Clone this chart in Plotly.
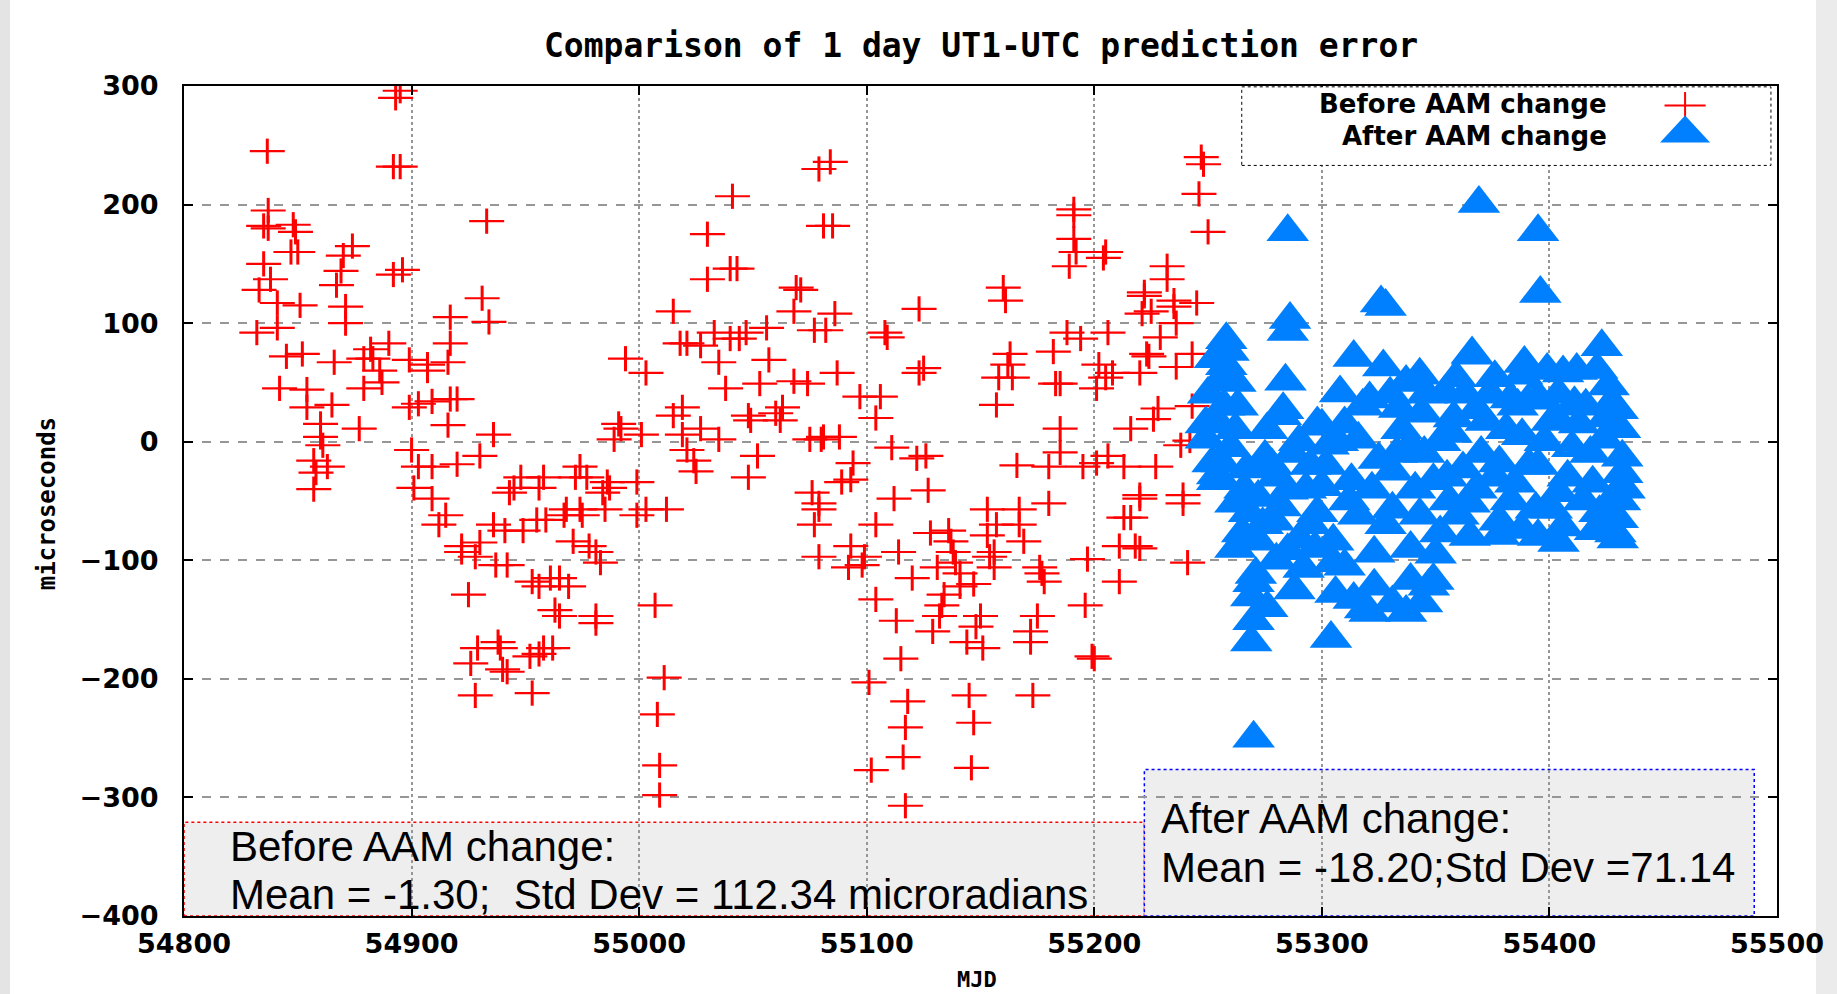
import plotly.graph_objects as go

# ---------------- data ----------------
before_mjd = [
    54836.6, 54893, 54895, 54892, 54895, 54837, 54837, 54835, 54848, 54849, 54847, 54835, 54850,
    54838, 54833, 54841, 54851, 54832, 54841, 54845, 54852, 54842, 54854, 54854, 54860, 54860,
    54861, 54857, 54858, 54863, 54857, 54870, 54874, 54869, 54867, 54871, 54871, 54866, 54865,
    54877, 54879, 54882, 54883, 54886, 54887, 54890, 54892, 54896, 54879, 54933, 54931, 54934,
    54917, 54917, 54907, 54907, 54916, 54899, 54899, 54903, 54909, 54916, 54920, 54917, 54900,
    54903, 54909, 54920, 54930, 54936, 54901, 54909, 54912, 54922, 54922, 54928, 54937, 54936,
    54925, 54929, 54926, 54938, 54940, 54928, 54915, 54930,
    55041, 55030, 55030, 55040, 55043, 55015, 55071, 55069, 55068, 55079, 55081, 54994, 55003,
    55018, 55021, 55027, 55033, 55040, 55044, 55047, 55056, 55057, 55035, 55038, 55053, 55068,
    55074, 54991, 54992, 54989, 55001, 55015, 55019, 55019, 55021, 55024, 55025, 55027, 55035,
    55049, 55052, 55048, 55060, 55062, 55063, 55075, 55080, 55076, 55079, 55077, 55079, 54942,
    54939, 54953, 54952, 54956, 54962, 54958, 54942, 54941, 54949, 54953, 54956, 54961, 54965,
    54969, 54963, 54965, 54981, 54981, 54983, 54971, 54978, 54981, 54955, 54959, 54967, 54968,
    54974, 54975, 54985, 54984, 54987, 54999, 55003, 55012, 54999, 54943, 54945, 54948, 54956,
    54972, 54977, 54974, 54986, 54958, 55007, 55011, 55008, 55009, 55009, 55048, 55077,
    55084, 55085, 55086, 55082, 55087, 55081, 55088, 55094, 55093, 55089, 55079, 55093, 55098,
    55099, 55092, 55104, 55104, 55097, 55106, 55104, 55108, 55109, 55123, 55123, 55125, 55111,
    55122, 55126, 55112, 55127, 55114, 55120, 55113, 55115, 55101, 55118, 55117, 55116, 55102,
    55117, 55128, 55136, 55137, 55138, 55139, 55141, 55141, 55134, 55133, 55132, 55129, 55131,
    55147, 55150, 55148, 55144, 55151, 55145, 55147, 55146, 55153, 55154, 55156, 55156, 55153,
    55157, 55167, 55167, 55169, 55177, 55178, 55176, 55172, 55175, 55172, 55173, 55180, 55197,
    55196, 55199, 55200, 55211, 55160, 55161, 55163, 55162, 55158, 55164, 55157, 55166, 55180,
    55185, 55185, 55191, 55191, 55191, 55189, 55192, 55205, 55204, 55182, 55188, 55194, 55183,
    55185, 55201, 55205, 55208, 55202, 55206, 55195, 55201, 55206, 55213, 55216, 55220, 55213,
    55216, 55211, 55218, 55222, 55221, 55223, 55220,
    55247, 55248, 55246, 55250, 55232, 55232, 55222, 55235, 55235, 55245, 55225, 55236, 55229,
    55224, 55236, 55243, 55228, 55226, 55243, 55238, 55242, 55227, 55220, 55239, 55239, 55241,
    55220,
]
before_val = [
    245, 290, 296, 232, 232, 195, 180, 182, 183, 177, 160, 150, 160,
    137, 128, 117, 115, 92, 96, 72, 74, 45, 44, 29, 15, 4,
    -3, -16, -26, -21, -40, 157, 165, 144, 132, 114, 100, 67, 31,
    11, 45, 78, 70, 60, 50, 83, 141, 145, 70, 186, 121, 101,
    105, 83, 65, 60, 67, 69, 29, 32, 34, 14, 36, 36, -7,
    -21, -21, -19, -12, 6, -39, -48, -70, -88, -93, -97, -104, -70,
    -129, -174, -187, -169, -192, -214, -62, -85,
    207, 175, 137, 146, 146, 110, 128, 130, 110, 230, 182, 70, 58,
    83, 83, 81, 92, 87, 87, 92, 96, 69, 67, 45, 49, 51,
    49, 15, 11, 2, 6, 22, 29, 6, -7, -16, -25, 11, 2,
    18, -12, -30, 24, 18, 29, 2, 2, -43, -57, -70, -97, -194,
    -174, -212, -181, -179, -174, -174, -104, -75, -75, -118, -122, -115, -115,
    -122, -142, -147, -153, -147, -102, -84, -88, -93, -66, -66, -62, -57,
    -57, -62, -57, -43, -39, -62, -57, -57, -34, -43, -39, -30, -39,
    -30, -30, -21, -34, -30, -138, -199, -230, -273, -298, 22, 94,
    236, 182, 108, 94, 58, 4, 4, -18, -32, -34, -52, -88, -104,
    -97, -106, -70, -133, 38, 38, 20, 92, 88, 112, 58, 62, -5,
    -14, -12, -48, -41, -93, -115, -151, -183, -203, -219, -241, -266, -277,
    -307, -77, -75, -84, -93, -102, -111, -122, -129, -138, -147, -160, -106,
    -120, -147, -156, -169, -174, -214, -237, -275, -79, -97, -93, -106, -57,
    -70, -57, -70, -84, -111, -118, -106, -160, -147, -169, -214, -52, -99,
    -138, -181, -183, -118, 130, 119, 74, 65, 54, 54, 31, -20, -21,
    11, -9, 191, 196, 171, 148, 160, 160, 155, 76, 92, 87, 49,
    49, 45, 54, 58, 65, 92, -21, -18, -12, -21, 11, -48, -64,
    -64, -88, -88, 126, 108, 74, 58,
    240, 234, 209, 177, 148, 137, 123, 119, 114, 117, 110, 100, 88,
    72, 63, 74, 28, 19, 30, -3, 1, -21, -45, -52, -45, -102,
    -90,
]

after_mjd = [
    55258, 55259, 55258, 55260, 55255, 55262, 55254, 55249, 55256, 55254, 55285, 55286, 55285,
    55284, 55282, 55283, 55326, 55328, 55369, 55395, 55396, 55314, 55327, 55343, 55359, 55366,
    55376, 55389, 55423, 55406, 55421, 55426, 55383, 55308, 55321, 55334, 55344, 55354, 55368,
    55396, 55411, 55427, 55298, 55290, 55300, 55275, 55267, 55252, 55249, 55303, 55316, 55339,
    55357, 55372, 55388, 55401, 55413, 55432, 55424, 55378, 55362, 55349, 55331, 55313, 55300,
    55285, 55272, 55262, 55254, 55404, 55419, 55428, 55394, 55365, 55331, 55316, 55295, 55279,
    55265, 55272, 55285, 55290, 55305, 55323, 55339, 55352, 55378, 55406, 55429, 55388, 55360,
    55343, 55428, 55401, 55305, 55339, 55349, 55323, 55319, 55344, 55331, 55271, 55269, 55292,
    55269, 55304, 55270, 55270, 55276, 55270, 55306, 55314, 55321, 55337, 55347, 55366, 55388,
    55404, 55430, 55431, 55432, 55431, 55430, 55430, 55404, 55378, 55260, 55263, 55276, 55280,
    55295, 55310, 55325, 55335, 55345, 55355, 55370, 55385, 55395, 55410, 55415, 55420, 55395,
    55365, 55350, 55310, 55298, 55280, 55262, 55288,
    55250, 55253, 55257, 55262, 55266, 55268, 55274, 55278, 55282, 55287, 55293, 55297, 55302,
    55307, 55312, 55318, 55322, 55328, 55330, 55333, 55337, 55341, 55346, 55352, 55356, 55358,
    55363, 55368, 55374, 55376, 55381, 55383, 55386, 55391, 55393, 55398, 55399, 55403, 55408,
    55412, 55416, 55418, 55422, 55425, 55433,
]
after_val = [
    86, 76, 64, 54, 51, 50, 17, 2, -18, -28, 177, 103, 93,
    51, 22, 27, 117, 114, 201, 177, 125, 71, 63, 56, 54, 74,
    54, 66, 80, 58, 61, 47, 36, 41, 36, 28, 24, 41, 27,
    35, 32, 32, 15, 0, 13, -13, -23, -18, 15, -3, 2, -3,
    7, 17, 5, 17, 15, -13, 2, -18, -23, -33, -25, -33, -38,
    -41, -47, -52, -33, -43, -35, -47, -57, -52, -57, -62, -70, -67,
    -77, -84, -92, -82, -84, -94, -90, -77, -67, -72, -77, -74, -62,
    -62, -62, -57, -102, -117, -117, -122, -141, -136, -136, -112, -131, -107,
    -169, -166, -250, -119, -140, -151, -128, -133, -144, -144, -122, 73, 56,
    40, 27, 11, -27, -50, -65, -82, -85, -79, -5, 30, 10, -30,
    -20, 15, -15, 10, -10, -30, -10, -35, -20, -5, -50, -75, -80,
    -80, -95, -105, -60, -100, -90, -125,
    40, 70, 30, 10, -40, -60, -70, -20, -55, -10, -40, -90, -20,
    0, -50, 30, -40, -70, 40, -10, 50, -40, 40, 0, -50, 20,
    40, -40, 40, -30, 10, -50, 30, -20, 40, 0, 60, 20, -30,
    60, 30, -10, -60, 20, -40,
]

x_ticks = [54800, 54900, 55000, 55100, 55200, 55300, 55400, 55500]
y_ticks = [-400, -300, -200, -100, 0, 100, 200, 300]

title_text = "Comparison of 1 day UT1-UTC prediction error"
x_title = "MJD"
y_title = "microseconds"
legend_names = ["Before AAM change", "After AAM change"]
box_before = ["Before AAM change:", "Mean = -1.30;  Std Dev = 112.34 microradians"]
box_after = ["After AAM change:", "Mean = -18.20;Std Dev =71.14"]

RED = "rgb(255,0,0)"
BLUE = "rgb(0,128,255)"
MONO = "DejaVu Sans Mono"
TICKF = "DejaVu Sans"
ARIAL = "Liberation Sans, Arial, sans-serif"

fig = go.Figure()

# red crosses (wider than tall): horizontal + vertical bars
fig.add_trace(go.Scatter(
    x=before_mjd, y=before_val, mode="markers", name=legend_names[0], showlegend=False,
    marker=dict(symbol="line-ew", size=25, line=dict(color=RED, width=2.2)),
    hoverinfo="skip"))
fig.add_trace(go.Scatter(
    x=before_mjd, y=before_val, mode="markers", name=legend_names[0], showlegend=False,
    marker=dict(symbol="line-ns", size=18, line=dict(color=RED, width=3)),
    hoverinfo="skip"))
# blue triangles
fig.add_trace(go.Scatter(
    x=after_mjd, y=after_val, mode="markers", name=legend_names[1], showlegend=False,
    marker=dict(symbol="triangle-up", size=37, color=BLUE, line=dict(width=0))))

axis_common = dict(
    showline=True, linecolor="black", linewidth=2, mirror="ticks",
    ticks="inside", ticklen=9, tickwidth=2, tickcolor="black",
    showgrid=True, gridcolor="rgb(150,150,150)", gridwidth=1.5,
    zeroline=False, automargin=False,
    tickfont=dict(family=TICKF, size=27, color="black", weight="bold"),
)
fig.update_xaxes(range=[54800, 55500], tickvals=x_ticks, ticktext=[str(v) for v in x_ticks],
                 griddash="dot", ticklabelstandoff=3, **axis_common)
fig.update_yaxes(range=[-400, 300], tickvals=y_ticks,
                 ticktext=[("\u2212" + str(-v)) if v < 0 else str(v) for v in y_ticks],
                 griddash="dash", ticklabelstandoff=18, **axis_common)

shapes = []
# side strips of the screenshot
shapes.append(dict(type="rect", xref="paper", yref="paper", x0=-0.1155, x1=-0.1092, y0=-0.11, y1=1.11,
                   fillcolor="rgb(228,228,228)", line=dict(width=0), layer="below"))
shapes.append(dict(type="rect", xref="paper", yref="paper", x0=1.0245, x1=1.04, y0=-0.11, y1=1.11,
                   fillcolor="rgb(235,235,235)", line=dict(width=0), layer="below"))
# statistic boxes
shapes.append(dict(type="rect", xref="x", yref="y", x0=54800, x1=55222, y0=-400, y1=-321,
                   fillcolor="rgb(238,238,238)", line=dict(color=RED, width=1.5, dash="dot"),
                   layer="below"))
shapes.append(dict(type="rect", xref="x", yref="y", x0=55222, x1=55490, y0=-400, y1=-276.5,
                   fillcolor="rgb(238,238,238)", line=dict(color="rgb(0,0,255)", width=1.5, dash="dot"),
                   layer="below"))
# legend box
shapes.append(dict(type="rect", xref="paper", yref="paper", x0=0.664, x1=0.9962, y0=0.9043, y1=0.999,
                   fillcolor="white", line=dict(color="black", width=1, dash="dot"), layer="above"))
# legend symbols
cx, cy = 0.9423, 0.9765
shapes.append(dict(type="line", xref="paper", yref="paper", x0=cx - 0.0129, x1=cx + 0.0129, y0=cy, y1=cy,
                   line=dict(color=RED, width=2), layer="above"))
shapes.append(dict(type="line", xref="paper", yref="paper", x0=cx, x1=cx, y0=cy - 0.0163, y1=cy + 0.0163,
                   line=dict(color=RED, width=2), layer="above"))
shapes.append(dict(type="path", xref="paper", yref="paper",
                   path="M 0.9266 0.9320 L 0.9580 0.9320 L 0.9423 0.9645 Z",
                   fillcolor=BLUE, line=dict(width=0), layer="above"))

annotations = [
    dict(text=title_text, xref="paper", yref="paper", x=0.5, y=1.0488, showarrow=False,
         xanchor="center", yanchor="middle", font=dict(family=MONO, size=33, color="black", weight="bold")),
    dict(text=y_title, xref="paper", yref="paper", x=-0.086, y=0.496, showarrow=False, textangle=-90,
         xanchor="center", yanchor="middle", font=dict(family=MONO, size=24, color="black", weight="bold")),
    dict(text=x_title, xref="paper", yref="paper", x=0.498, y=-0.0771, showarrow=False,
         xanchor="center", yanchor="middle", font=dict(family=MONO, size=22, color="black", weight="bold")),
    dict(text=legend_names[0], xref="paper", yref="paper", x=0.8945, y=0.9778, showarrow=False,
         xanchor="right", yanchor="middle", font=dict(family=TICKF, size=26, color="black", weight="bold")),
    dict(text=legend_names[1], xref="paper", yref="paper", x=0.8945, y=0.9393, showarrow=False,
         xanchor="right", yanchor="middle", font=dict(family=TICKF, size=26, color="black", weight="bold")),
    dict(text=box_before[0], xref="x", yref="y", x=54819.3, y=-341, showarrow=False,
         xanchor="left", yanchor="middle", font=dict(family=ARIAL, size=42, color="black")),
    dict(text=box_before[1], xref="x", yref="y", x=54819.3, y=-381.5, showarrow=False,
         xanchor="left", yanchor="middle", font=dict(family=ARIAL, size=42, color="black")),
    dict(text=box_after[0], xref="x", yref="y", x=55228.4, y=-317.4, showarrow=False,
         xanchor="left", yanchor="middle", font=dict(family=ARIAL, size=42, color="black")),
    dict(text=box_after[1], xref="x", yref="y", x=55228.4, y=-358.7, showarrow=False,
         xanchor="left", yanchor="middle", font=dict(family=ARIAL, size=42, color="black")),
]

fig.update_layout(
    width=1837, height=994,
    margin=dict(l=184, r=60, t=86, b=78, autoexpand=False),
    paper_bgcolor="white", plot_bgcolor="white",
    showlegend=False,
    shapes=shapes, annotations=annotations,
)

fig.write_html("out.html", include_plotlyjs=True, config={"responsive": False})
